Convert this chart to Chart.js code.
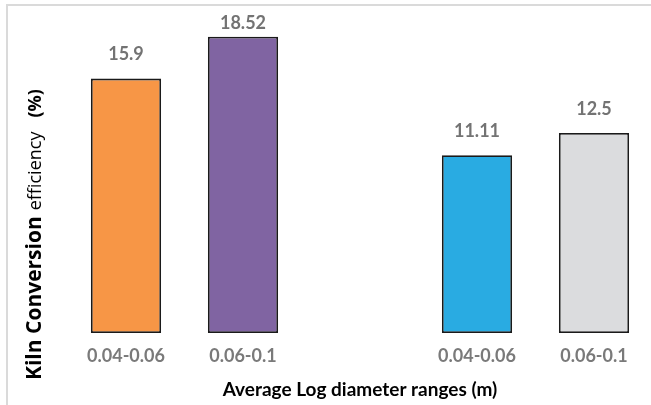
<!DOCTYPE html>
<html>
<head>
<meta charset="utf-8">
<script src="https://cdn.jsdelivr.net/npm/chart.js@4/dist/chart.umd.min.js"></script>
<style>
  html, body { margin: 0; padding: 0; background: #fff; overflow: hidden; }
  #frame { position: absolute; left: 6px; top: 4px; width: 700px; height: 500px; border-left: 2px solid #dadada; border-top: 2px solid #dadada; }
  #wrap { position: absolute; left: 0; top: 0; width: 660px; height: 405px; }
</style>
</head>
<body>
<div id="frame"></div>
<div id="wrap"><canvas id="chart"></canvas></div>
<script>
const categories = ["0.04-0.06", "0.06-0.1", "", "0.04-0.06", "0.06-0.1"];
const efficiency = [15.9, 18.52, null, 11.11, 12.5];
const barColors = ["#f79646", "#8064a2", "#ffffff", "#29abe2", "#dbdcde"];
const yTitleParts = [
  { text: "Kiln Conversion", font: "bold 21px 'Open Sans'" },
  { text: "efficiency", font: "18px 'Open Sans'" },
  { text: "(%)", font: "bold 18px 'Open Sans'" }
];
const xTitle = "Average Log diameter ranges (m)";

const valueLabels = {
  id: "valueLabels",
  afterDatasetsDraw(chart) {
    const ctx = chart.ctx;
    const meta = chart.getDatasetMeta(0);
    ctx.save();
    ctx.font = "bold 18px Lato";
    ctx.fillStyle = "#737373";
    ctx.textAlign = "center";
    ctx.textBaseline = "middle";
    meta.data.forEach((bar, i) => {
      const v = efficiency[i];
      if (v == null) return;
      const y = Math.max(bar.y - 24, 23);
      ctx.fillText(String(v), bar.x, y);
    });
    ctx.restore();
  }
};

const yTitle = {
  id: "yTitle",
  afterDraw(chart) {
    const ctx = chart.ctx;
    ctx.save();
    ctx.translate(41, 380);
    ctx.rotate(-Math.PI / 2);
    ctx.fillStyle = "#000";
    ctx.textAlign = "left";
    ctx.textBaseline = "alphabetic";
    let x = 0;
    yTitleParts.forEach((part, i) => {
      ctx.font = part.font;
      ctx.fillText(part.text, x, 0);
      x += ctx.measureText(part.text).width + (i === 0 ? 6 : 14);
    });
    ctx.restore();
  }
};

new Chart(document.getElementById("chart"), {
  type: "bar",
  data: {
    labels: categories,
    datasets: [{
      data: efficiency,
      backgroundColor: barColors,
      borderColor: "#1a1a1a",
      borderWidth: 1.8,
      borderSkipped: false,
      categoryPercentage: 1,
      barPercentage: 0.6
    }]
  },
  options: {
    responsive: true,
    maintainAspectRatio: false,
    animation: false,
    events: [],
    layout: { padding: { left: 67.5, right: 7.5, top: 13, bottom: 3.6 } },
    plugins: {
      legend: { display: false },
      tooltip: { enabled: false }
    },
    scales: {
      y: { display: false, min: 0, max: 20 },
      x: {
        grid: { display: false, drawTicks: false },
        border: { display: false },
        ticks: {
          autoSkip: false,
          maxRotation: 0,
          padding: 12,
          color: "#7a7a7a",
          font: { family: "Lato", size: 18, weight: "bold" }
        },
        title: {
          display: true,
          text: xTitle,
          color: "#000",
          padding: { top: 0, bottom: 0 },
          font: { family: "Lato", size: 19, weight: "bold" }
        }
      }
    }
  },
  plugins: [valueLabels, yTitle]
});
</script>
</body>
</html>
